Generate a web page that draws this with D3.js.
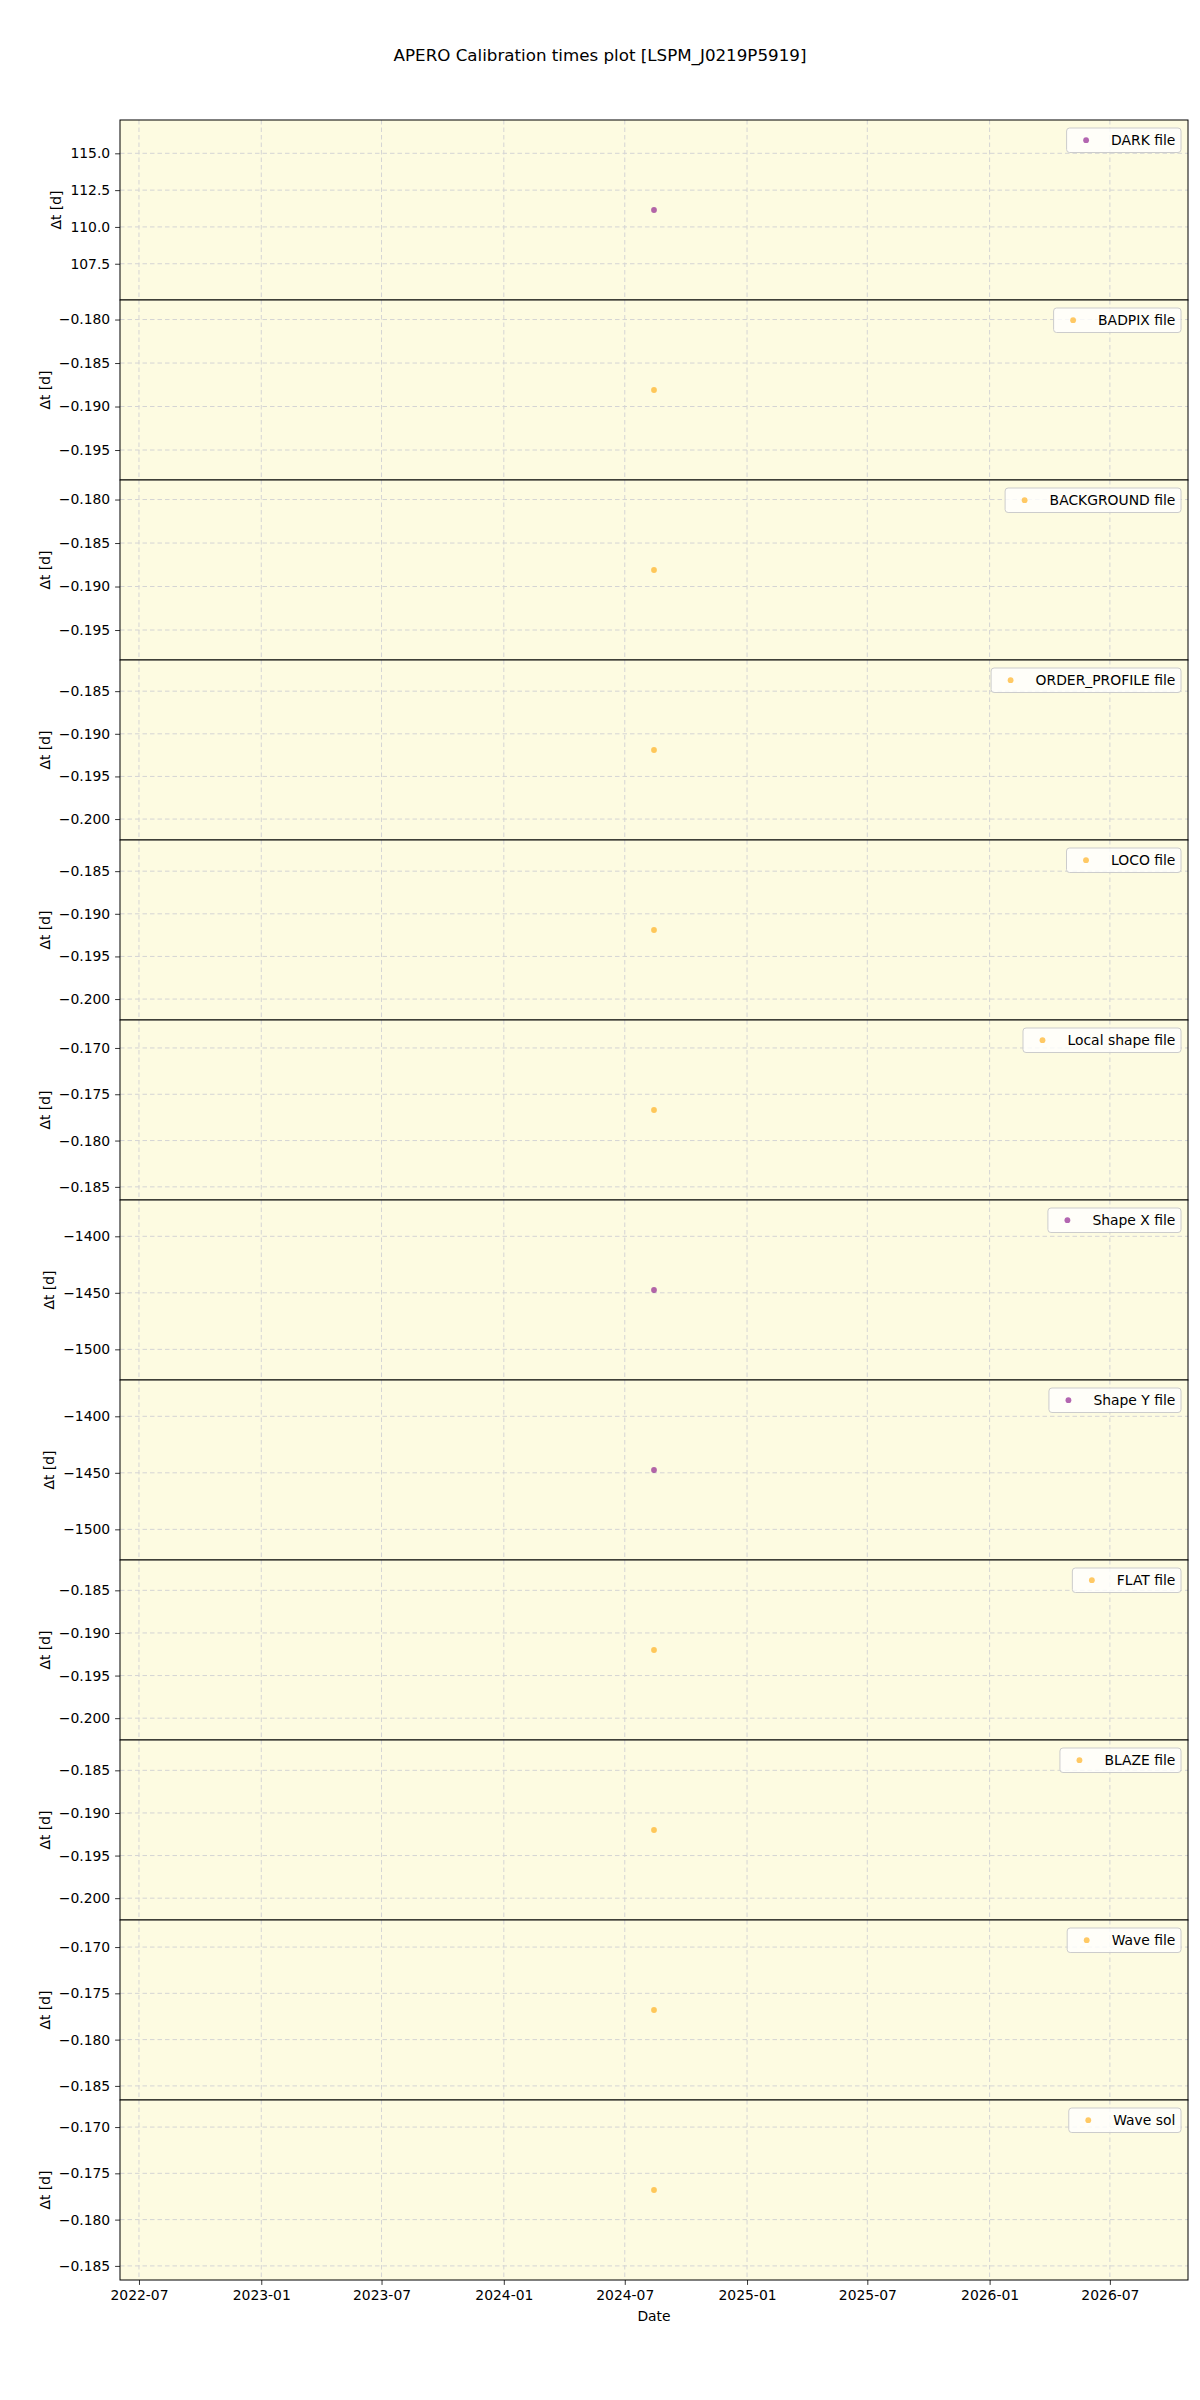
<!DOCTYPE html>
<html>
<head>
<meta charset="utf-8">
<script src="https://cdn.jsdelivr.net/npm/d3@7"></script>
<style>
  body { margin: 0; background: #ffffff; }
  svg { display: block; }
  text { font-family: "DejaVu Sans", sans-serif; }
</style>
</head>
<body>
<svg id="chart" width="1200" height="2400"></svg>
<script>
// ---------------- data ----------------
const title = "APERO Calibration times plot [LSPM_J0219P5919]";
const seriesLabels = ["DARK file", "BADPIX file", "BACKGROUND file", "ORDER_PROFILE file",
  "LOCO file", "Local shape file", "Shape X file", "Shape Y file",
  "FLAT file", "BLAZE file", "Wave file", "Wave sol"];
const seriesDates = ["2024-08-14", "2024-08-14", "2024-08-14", "2024-08-14",
  "2024-08-14", "2024-08-14", "2024-08-14", "2024-08-14",
  "2024-08-14", "2024-08-14", "2024-08-14", "2024-08-14"];
const seriesValues = [111.15, -0.1881, -0.1881, -0.1919,
  -0.1919, -0.1767, -1447.5, -1447.5,
  -0.1920, -0.1920, -0.1768, -0.1768];
const yLabel = "\u0394t [d]";
const xLabel = "Date";
const xTickFormat = "%Y-%m";

// ---------------- styles ----------------
const pointColors = ["purple", "orange", "orange", "orange", "orange", "orange",
  "purple", "purple", "orange", "orange", "orange", "orange"];
const W = 1200;
const left = 120, right = 1188, top0 = 120, panelH = 180;
const fs = 13.9;
const bg = "#fdfbe1";
const gridColor = "#d4d4d4";

const svg = d3.select("#chart");
svg.append("rect").attr("width", 1200).attr("height", 2400).attr("fill", "#fff");

svg.append("text").attr("x", W / 2).attr("y", 61).attr("text-anchor", "middle")
  .attr("font-size", 16.7).text(title);

// shared x scale (matplotlib-style: single date expanded by +-2 years, then 5% margins)
const parse = d3.utcParse("%Y-%m-%d");
const dates = seriesDates.map(parse);
const dMin = d3.min(dates), dMax = d3.max(dates);
const yearMs = 365.25 * 864e5;
let x0 = +dMin, x1 = +dMax;
if (x1 - x0 < 1) { x0 -= 2 * yearMs; x1 += 2 * yearMs; }
const xm = (x1 - x0) * 0.05;
const x = d3.scaleUtc().domain([new Date(x0 - xm), new Date(x1 + xm)]).range([left, right]);
const xTicks = d3.utcMonth.every(6).range(x.domain()[0], x.domain()[1]);

function niceStep(range, nbins) {
  const raw = range / nbins;
  const p = Math.pow(10, Math.floor(Math.log10(raw)));
  for (const s of [1, 2, 2.5, 5, 10]) { if (s * p >= raw * 0.999999) return s * p; }
  return 10 * p;
}

const n = seriesLabels.length;
for (let i = 0; i < n; i++) {
  const v = seriesValues[i];
  const pt = top0 + i * panelH, pb = pt + panelH;
  // matplotlib singular expansion 5% and margins 5%
  let lo = v - 0.05 * Math.abs(v), hi = v + 0.05 * Math.abs(v);
  const m = (hi - lo) * 0.05; lo -= m; hi += m;
  const y = d3.scaleLinear().domain([lo, hi]).range([pb, pt]);
  const step = niceStep(hi - lo, 6);
  const ticks = [];
  for (let t = Math.ceil(lo / step) * step; t <= hi + 1e-12; t += step) ticks.push(+t.toPrecision(12));
  const dec = Math.max(0, -Math.floor(Math.log10(step) + 1e-9) + (String(step / Math.pow(10, Math.floor(Math.log10(step)))).includes(".") ? 1 : 0));
  const fmt = d3.format("." + dec + "f");

  const g = svg.append("g");
  g.append("rect").attr("x", left).attr("y", pt).attr("width", right - left).attr("height", panelH).attr("fill", bg);

  // grid
  g.selectAll(".vg").data(xTicks).enter().append("line")
    .attr("x1", d => x(d)).attr("x2", d => x(d)).attr("y1", pt).attr("y2", pb)
    .attr("stroke", gridColor).attr("stroke-width", 1).attr("stroke-dasharray", "4.5,3");
  g.selectAll(".hg").data(ticks).enter().append("line")
    .attr("x1", left).attr("x2", right).attr("y1", d => y(d)).attr("y2", d => y(d))
    .attr("stroke", gridColor).attr("stroke-width", 1).attr("stroke-dasharray", "4.5,3");

  // point
  g.append("circle").attr("cx", x(dates[i])).attr("cy", y(v)).attr("r", 2.9)
    .attr("fill", pointColors[i]).attr("fill-opacity", 0.6);

  // y axis
  const ya = g.append("g").attr("transform", `translate(${left},0)`)
    .call(d3.axisLeft(y).tickValues(ticks).tickFormat(fmt).tickSize(4.9).tickPadding(4.9));
  ya.select(".domain").remove();
  ya.selectAll("text").attr("font-size", fs).attr("font-family", "DejaVu Sans").attr("fill", "#000");
  ya.selectAll("line").attr("stroke", "#000").attr("stroke-width", 0.8);
  let minX = Infinity;
  ya.selectAll("text").each(function () { const b = this.getBBox(); minX = Math.min(minX, left + b.x); });
  g.append("text").attr("transform", `translate(${minX - 5.6 - 3.5},${(pt + pb) / 2}) rotate(-90)`)
    .attr("text-anchor", "middle").attr("font-size", fs).text(yLabel);

  // frame
  g.append("rect").attr("x", left).attr("y", pt).attr("width", right - left).attr("height", panelH)
    .attr("fill", "none").attr("stroke", "#000").attr("stroke-width", 1);

  // legend
  const lg = g.append("g");
  const txt = lg.append("text").attr("font-size", fs).attr("y", pt + 8 + 17).text(seriesLabels[i]);
  const tw = txt.node().getComputedTextLength();
  const boxW = 5.6 + 27.8 + 11.1 + tw + 5.6;
  const bx = right - 7 - boxW, by = pt + 8;
  lg.insert("rect", "text").attr("x", bx).attr("y", by).attr("width", boxW).attr("height", 24.5)
    .attr("rx", 3).attr("fill", "#ffffff").attr("fill-opacity", 0.8)
    .attr("stroke", "#cccccc").attr("stroke-width", 1);
  txt.attr("x", bx + 5.6 + 27.8 + 11.1);
  lg.append("circle").attr("cx", bx + 5.6 + 13.9).attr("cy", by + 12.2).attr("r", 2.9)
    .attr("fill", pointColors[i]).attr("fill-opacity", 0.6);

  if (i === n - 1) {
    const xa = svg.append("g").attr("transform", `translate(0,${pb})`)
      .call(d3.axisBottom(x).tickValues(xTicks).tickFormat(d3.utcFormat(xTickFormat)).tickSize(4.9).tickPadding(4.9));
    xa.select(".domain").remove();
    xa.selectAll("text").attr("font-size", fs).attr("font-family", "DejaVu Sans").attr("fill", "#000");
    xa.selectAll("line").attr("stroke", "#000").attr("stroke-width", 0.8);
    svg.append("text").attr("x", (left + right) / 2).attr("y", pb + 41).attr("text-anchor", "middle")
      .attr("font-size", fs).text(xLabel);
  }
}
</script>
</body>
</html>
